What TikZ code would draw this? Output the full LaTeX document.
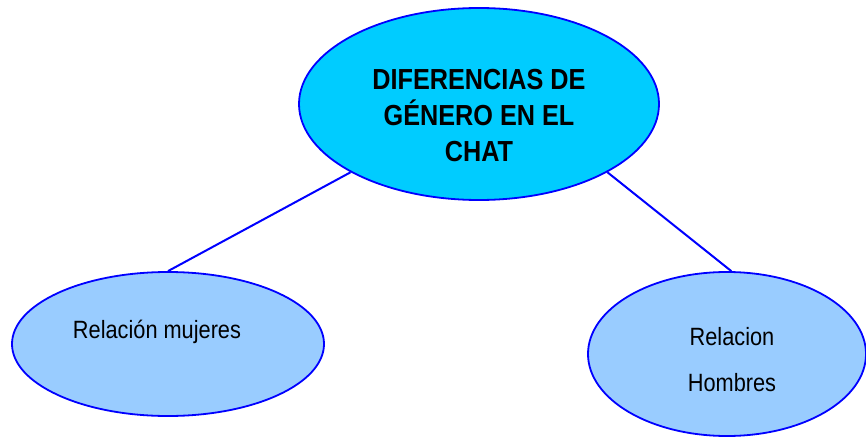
\documentclass[tikz,border=0pt]{standalone}
\usepackage{fontspec}
\setmainfont{Liberation Sans}
\newfontfamily\narrowsans[FakeStretch=0.87]{Liberation Sans}
\usepackage{tikz}
\usetikzlibrary{shapes}
\definecolor{chatcyan}{HTML}{00CCFF}
\definecolor{chatlight}{HTML}{99CCFF}
\definecolor{chatblue}{HTML}{0000FF}
\tikzstyle{main} = [ellipse, minimum width=360pt, minimum height=192pt, inner sep=0pt, draw=chatblue, line width=1.8pt, fill=chatcyan]
\tikzstyle{branch} = [ellipse, inner sep=0pt, draw=chatblue, line width=1.8pt, fill=chatlight]
\tikzstyle{maintext} = [align=center, font=\narrowsans\bfseries\fontsize{29}{36}\selectfont]
\tikzstyle{branchtext} = [align=center, font=\narrowsans\fontsize{25}{46}\selectfont]
\tikzstyle{link} = [line width=2pt, draw=chatblue]
\begin{document}
\begin{tikzpicture}[x=1pt, y=-1pt]
    \useasboundingbox (0,0) rectangle (866,438);

    \node(CHAT)[main] at (479,104) {};
    \node(MUJ)[branch, minimum width=312pt, minimum height=144pt] at (168,344) {};
    \node(HOM)[branch, minimum width=278pt, minimum height=164pt] at (727,354) {};

    \draw[link] (CHAT.208) -- (MUJ.north);
    \draw[link] (CHAT.-28) -- (HOM.87);

    \node(CHATtxt)[maintext] at ([yshift=-12pt]CHAT.center) {DIFERENCIAS DE\\GÉNERO EN EL\\CHAT};
    \node(MUJtxt)[branchtext] at ([xshift=-11pt, yshift=12pt]MUJ.center) {Relación mujeres};
    \node(HOMtxt)[branchtext] at ([xshift=5pt, yshift=-6pt]HOM.center) {Relacion\\Hombres};

\end{tikzpicture}
\end{document}
